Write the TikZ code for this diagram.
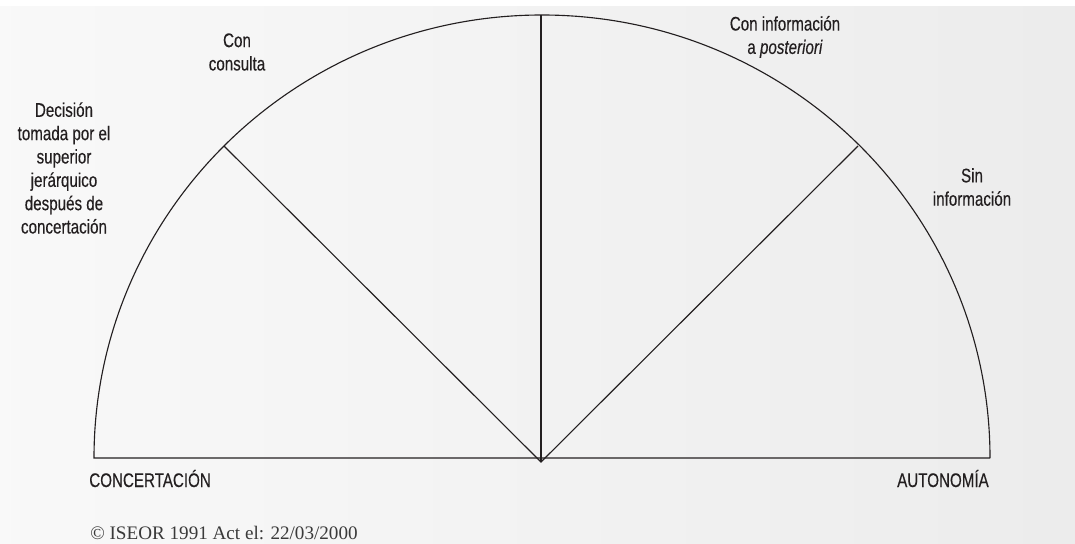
\documentclass[tikz,border=0pt]{standalone}
\usepackage{fontspec}
\setmainfont{Liberation Serif}
\newfontfamily\labelfont{Liberation Sans}[FakeStretch=0.77, FakeBold=0.3]
\usetikzlibrary{positioning}
\definecolor{ink}{HTML}{231F20}
\definecolor{note}{HTML}{3A3A3A}

\begin{document}
\begin{tikzpicture}[x=0.025cm, y=-0.025cm,
  lbl/.style={font=\labelfont\fontsize{14}{16.6}\selectfont, text=ink,
    align=center, inner sep=0pt},
  rim/.style={line width=0.8pt, ink}]
  \useasboundingbox (0,0) rectangle (1075,544);

  % Background
  \shade[left color=gray!5, right color=gray!15] (0,7) rectangle (1075,544);

  % Points of the half circle
  \coordinate (west) at (94,458);
  \coordinate (east) at (990,458);
  \coordinate (apex) at (541,462);
  \coordinate (top) at (541,15);
  \coordinate (nw) at (224,146);
  \coordinate (ne) at (858,146);

  % Half circle and rays
  \draw[rim] (east) -- (west) arc[start angle=180, end angle=360,
    x radius=448, y radius=443];
  \draw[rim] (nw) -- (apex) -- (ne);
  \draw[rim] (top) -- (apex);

  % Sector labels
  \node[lbl] (decision) at (64,168) {Decisión\\tomada por el\\superior\\
    jerárquico\\después de\\concertación};
  \node[lbl] (consulta) at (237,52) {Con\\consulta};
  \node[lbl] (posteriori) at (785,37) {Con información\\a \textit{posteriori}};
  \node[lbl] (sininfo) at (972,187) {Sin\\información};

  % Ends of the axis
  \node[lbl, anchor=base west] (concert) at (89,487) {CONCERTACIÓN};
  \node[lbl, anchor=base east] (auton) at (989,487) {AUTONOMÍA};

  % Source
  \node[font=\fontsize{13.6}{16}\selectfont, text=note, anchor=base west,
    inner sep=0pt] (source) at (90,539) {© ISEOR 1991 Act el: 22/03/2000};
\end{tikzpicture}
\end{document}
